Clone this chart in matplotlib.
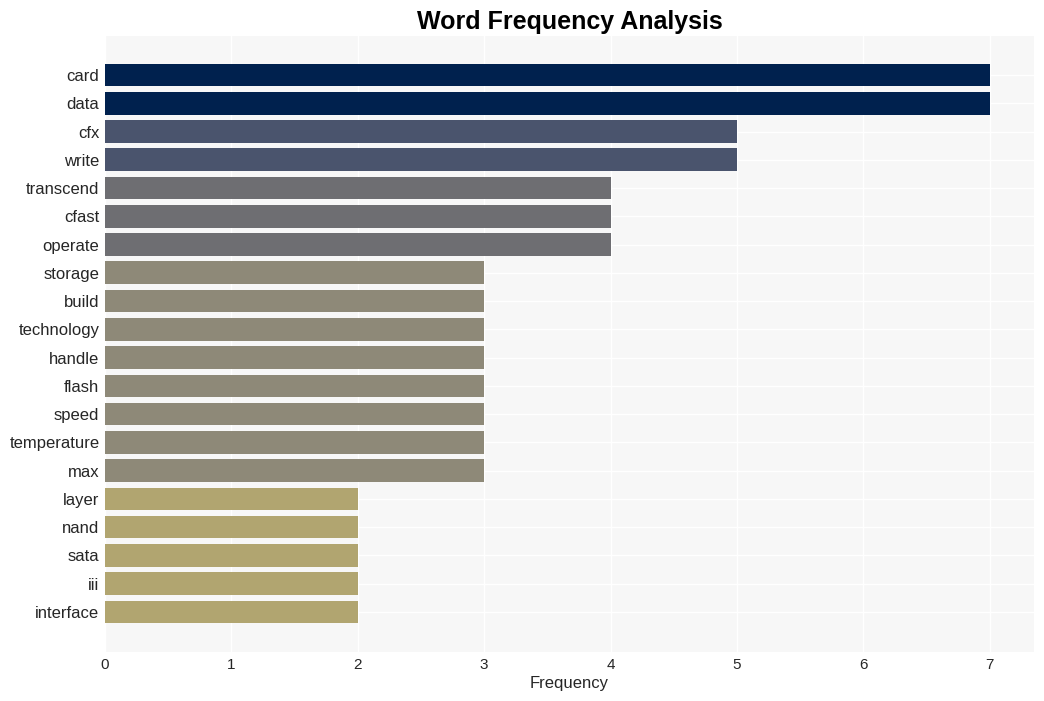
import matplotlib.pyplot as plt
import numpy as np

plt.rcParams["font.family"] = ["Liberation Sans", "DejaVu Sans"]

words = ["card", "data", "cfx", "write", "transcend", "cfast", "operate",
         "storage", "build", "technology", "handle", "flash", "speed",
         "temperature", "max", "layer", "nand", "sata", "iii", "interface"]
counts = [7, 7, 5, 5, 4, 4, 4, 3, 3, 3, 3, 3, 3, 3, 3, 2, 2, 2, 2, 2]

# colour by frequency (cividis-like shades)
shade = {7: "#00214e", 5: "#4a546d", 4: "#6e6e72", 3: "#8e8978", 2: "#b1a570"}
colors = [shade[c] for c in counts]

fig = plt.figure(figsize=(10.44, 7.01), dpi=100)
ax = fig.add_axes([105 / 1044, 1 - 652 / 701, (1034 - 105) / 1044, (652 - 36) / 701])
ax.set_facecolor("#f7f7f7")

y = np.arange(len(words))
ax.barh(y, counts, height=0.8, color=colors, zorder=3)

ax.set_yticks(y)
ax.set_yticklabels(words, fontsize=12, color="#262626")
ax.set_ylim(len(words) - 1 + 1.42, -1.38)
ax.set_xlim(0, 7.35)
ax.set_xticks(range(8))
ax.tick_params(axis="x", labelsize=11, colors="#262626", length=0, pad=4)
ax.tick_params(axis="y", length=0, pad=4)

ax.grid(True, color="white", linewidth=1, zorder=0)
ax.set_axisbelow(True)
for s in ax.spines.values():
    s.set_visible(False)

ax.set_xlabel("Frequency", fontsize=12, color="#262626", labelpad=3)
ax.set_title("Word Frequency Analysis", fontsize=18, fontweight="bold", pad=5)

fig.savefig("out.png", dpi=100)
